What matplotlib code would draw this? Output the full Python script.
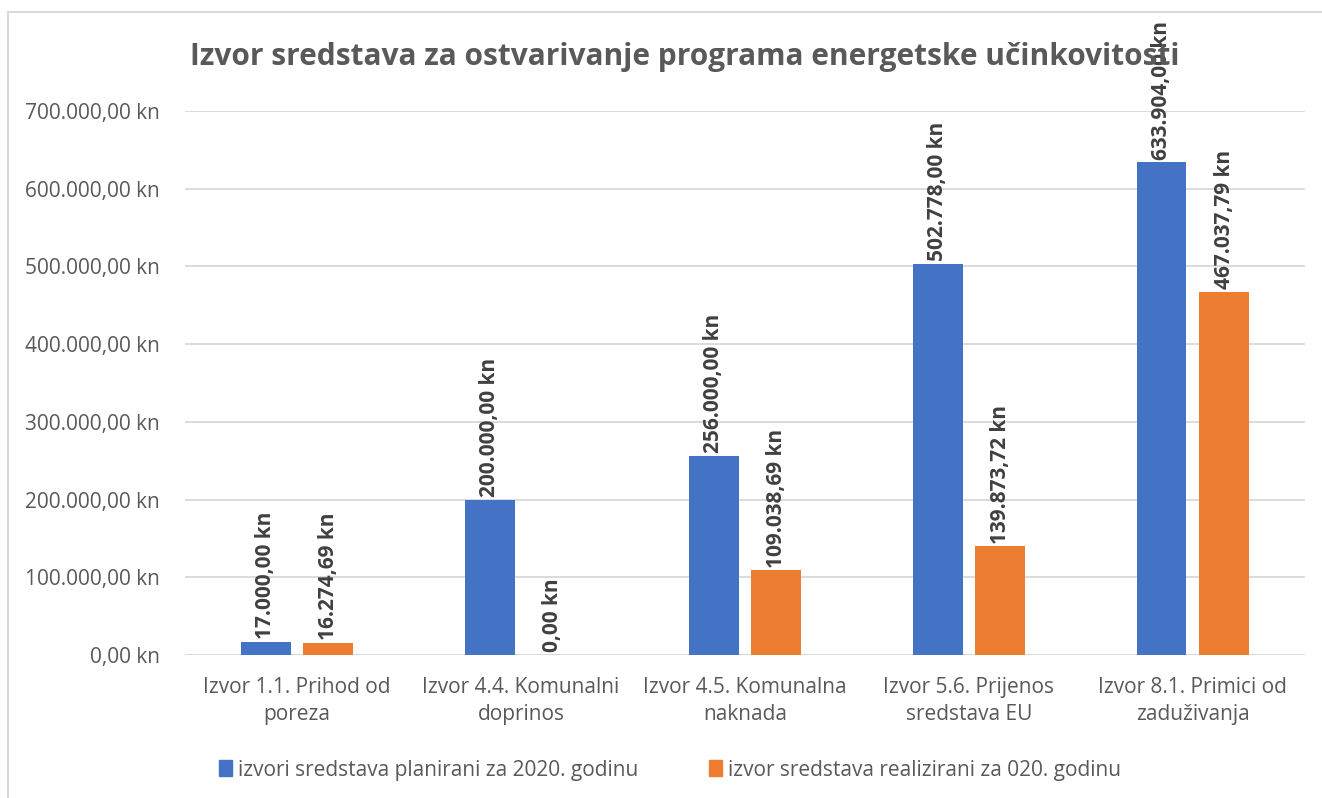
import matplotlib.pyplot as plt
import numpy as np
from matplotlib.lines import Line2D

# -------- data --------
kategorije = ["Izvor 1.1. Prihod od\nporeza", "Izvor 4.4. Komunalni\ndoprinos",
              "Izvor 4.5. Komunalna\nnaknada", "Izvor 5.6. Prijenos\nsredstava EU",
              "Izvor 8.1. Primici od\nzaduživanja"]
planirano = [17000.00, 200000.00, 256000.00, 502778.00, 633904.00]
realizirano = [16274.69, 0.00, 109038.69, 139873.72, 467037.79]
oznake_plan = ["17.000,00 kn", "200.000,00 kn", "256.000,00 kn", "502.778,00 kn", "633.904,00 kn"]
oznake_real = ["16.274,69 kn", "0,00 kn", "109.038,69 kn", "139.873,72 kn", "467.037,79 kn"]
y_ticks = [0, 100000, 200000, 300000, 400000, 500000, 600000, 700000]
y_labels = ["0,00 kn", "100.000,00 kn", "200.000,00 kn", "300.000,00 kn", "400.000,00 kn",
            "500.000,00 kn", "600.000,00 kn", "700.000,00 kn"]
naslov = "Izvor sredstava za ostvarivanje programa energetske učinkovitosti"
leg1 = "izvori sredstava planirani za 2020. godinu"
leg2 = "izvor sredstava realizirani za 020. godinu"

plava = "#4472C4"
narancasta = "#ED7D31"
siva = "#595959"

plt.rcParams['font.family'] = ['Open Sans', 'DejaVu Sans']

fig = plt.figure(figsize=(13.22, 7.98), dpi=100)
ax = fig.add_axes([0.140, 0.179, 0.847, 0.682])

x = np.arange(len(kategorije))
w = 0.223
b1 = ax.bar(x - 0.14, planirano, w, color=plava, zorder=3)
b2 = ax.bar(x + 0.14, realizirano, w, color=narancasta, zorder=3)

for bars, txt in ((b1, oznake_plan), (b2, oznake_real)):
    for r, t in zip(bars, txt):
        ax.annotate(t, (r.get_x() + r.get_width() / 2, r.get_height()),
                    xytext=(0, 2), textcoords="offset points", rotation=90,
                    ha="center", va="bottom", fontsize=15, fontweight="bold",
                    color="#404040", annotation_clip=False, zorder=4)

ax.set_xlim(-0.5, len(kategorije) - 0.5)
ax.set_ylim(0, 700000)
ax.set_yticks(y_ticks)
ax.set_yticklabels(y_labels, fontsize=15, color=siva)
ax.set_xticks(x)
ax.set_xticklabels(kategorije, fontsize=15, color=siva, linespacing=1.35)
ax.tick_params(axis="x", length=0, pad=16)
ax.tick_params(axis="y", length=0, pad=18)
ax.grid(axis="y", color="#D9D9D9", linewidth=1.3, zorder=0)
for s in ax.spines.values():
    s.set_visible(False)
ax.axhline(0, color="#D9D9D9", linewidth=1.3, zorder=1)

fig.text(0.518, 0.928, naslov, ha="center", va="center", fontsize=21.5,
         fontweight="bold", color=siva)

h1 = plt.Rectangle((0, 0), 1, 1, color=plava)
h2 = plt.Rectangle((0, 0), 1, 1, color=narancasta)
fig.legend([h1, h2], [leg1, leg2], loc="center", bbox_to_anchor=(0.507, 0.035), ncol=2,
           frameon=False, fontsize=15, labelcolor=siva, handlelength=0.6, handleheight=0.8,
           handletextpad=0.3, columnspacing=3.4)

# okvir grafikona (gornji i lijevi rub)
fig.add_artist(Line2D([0.006, 1.0], [0.985, 0.985], color="#D9D9D9", linewidth=1.5))
fig.add_artist(Line2D([0.006, 0.006], [0.0, 0.985], color="#D9D9D9", linewidth=1.5))

fig.savefig("out.png", dpi=100)
